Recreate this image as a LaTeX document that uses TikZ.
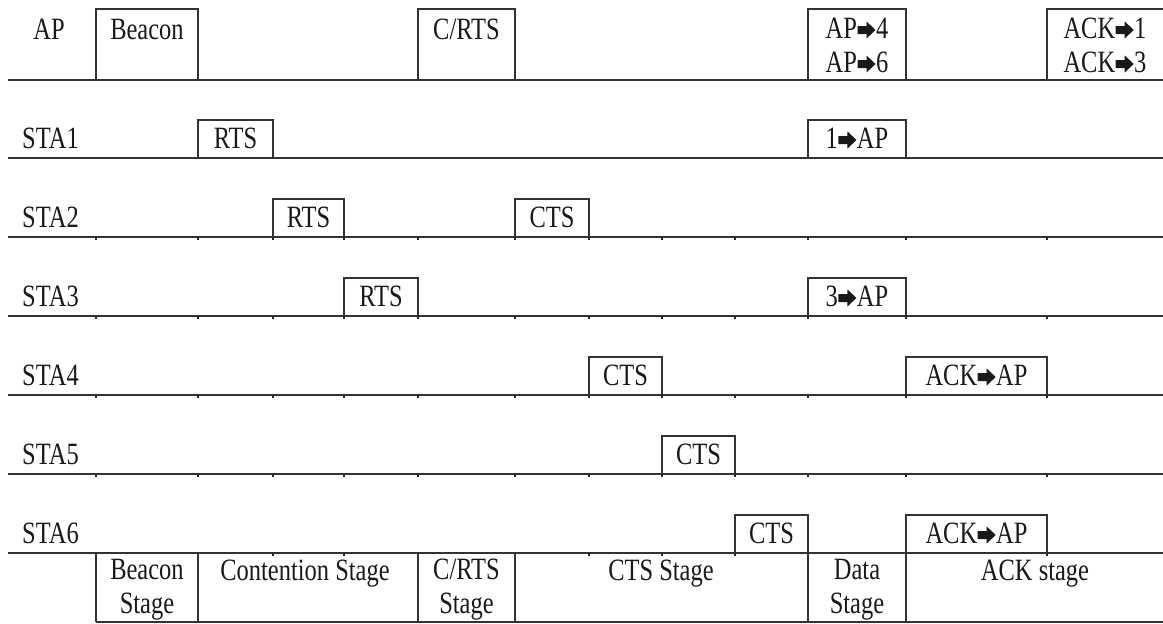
\documentclass[tikz,border=0pt]{standalone}
\usepackage{fontspec}
\setmainfont[FakeStretch=0.79]{Liberation Serif}
\newcommand\ra{\hspace{0.5pt}\tikz[baseline=0pt,x=1pt,y=1pt]\fill[black!90] (0,4) -- (9,4) -- (9,-0.5) -- (18,8) -- (9,16.5) -- (9,12) -- (0,12) -- cycle;\hspace{0.5pt}}
\tikzset{
  mainline/.style={line width=2.4pt, draw=black!80},
  boxline/.style={line width=1.7pt, draw=black!80},
  tickmark/.style={line width=1.4pt, draw=black!85},
  lbl/.style={inner sep=0pt, font=\fontsize{31}{34}\selectfont, text=black!90, anchor=base, align=center},
  rowlbl/.style={lbl, anchor=base west},
}
\newcommand\msgbox[4]{\draw[boxline] (#1,#4) |- (#2,#3) -- (#2,#4);}
\begin{document}
\begin{tikzpicture}[x=1pt,y=-1pt]
\useasboundingbox (0,0) rectangle (1163,624);
\fill[white] (0,0) rectangle (1163,624);
% ----- message boxes -----
% AP
\msgbox{96}{198}{9}{80}
\msgbox{418}{515}{9}{80}
\msgbox{808}{906}{9}{80}
\draw[boxline] (1047,80) |- (1164,9);
% STA1
\msgbox{198}{273}{120}{158}
\msgbox{808}{906}{120}{158}
% STA2
\msgbox{273}{344}{199}{237}
\msgbox{515}{589}{199}{237}
% STA3
\msgbox{344}{418}{278}{316}
\msgbox{808}{906}{278}{316}
% STA4
\msgbox{589}{662}{357}{395}
\msgbox{906}{1047}{357}{395}
% STA5
\msgbox{662}{735}{436}{474}
% STA6
\msgbox{735}{808}{515}{553}
\msgbox{906}{1047}{515}{553}
% ----- time lines -----
\foreach \y/\n in {80/ap,158/s1,237/s2,316/s3,395/s4,474/s5,553/s6}{
  \coordinate (\n-l) at (8,\y);
  \coordinate (\n-r) at (1163,\y);
  \draw[mainline] (\n-l) -- (\n-r);
}
\foreach \y in {237,316,395,474,553}{
  \foreach \x in {96,198,273,344,418,515,589,662,735,808,906,1047}{
    \draw[tickmark] (\x,\y) -- (\x,\y+3);
  }
}
% ----- stage table -----
\coordinate (tb-l) at (96,622);
\coordinate (tb-r) at (1163,622);
\draw[mainline] (tb-l) -- (tb-r);
\foreach \x in {96,198,418,515,808,906}{
  \draw[boxline] (\x,553) -- (\x,622);
}
% ----- row labels -----
\node[lbl] (lap) at (49,39) {AP};
\node[rowlbl] (l1) at (22,148) {STA1};
\node[rowlbl] (l2) at (22,227) {STA2};
\node[rowlbl] (l3) at (22,306) {STA3};
\node[rowlbl] (l4) at (22,385) {STA4};
\node[rowlbl] (l5) at (22,464) {STA5};
\node[rowlbl] (l6) at (22,543) {STA6};
% ----- box texts -----
\node[lbl] (tbeacon) at (147,39) {Beacon};
\node[lbl] (tcrts) at (466.5,39) {C/RTS};
\node[lbl] (tdata) at (857,72) {AP\ra4\\AP\ra6};
\node[lbl] (tack) at (1105,72) {ACK\ra1\\ACK\ra3};
\node[lbl] (r1) at (235.5,148) {RTS};
\node[lbl] (d1) at (857,148) {1\ra AP};
\node[lbl] (r2) at (308.5,227) {RTS};
\node[lbl] (c2) at (552,227) {CTS};
\node[lbl] (r3) at (381,306) {RTS};
\node[lbl] (d3) at (857,306) {3\ra AP};
\node[lbl] (c4) at (625.5,385) {CTS};
\node[lbl] (a4) at (976.5,385) {ACK\ra AP};
\node[lbl] (c5) at (698.5,464) {CTS};
\node[lbl] (c6) at (771.5,543) {CTS};
\node[lbl] (a6) at (976.5,543) {ACK\ra AP};
% ----- stage names -----
\node[lbl] (sbeacon) at (147,613) {Beacon\\Stage};
\node[lbl] (scont) at (305,580) {Contention Stage};
\node[lbl] (scrts) at (466.5,613) {C/RTS\\Stage};
\node[lbl] (scts) at (661,580) {CTS Stage};
\node[lbl] (sdata) at (857,613) {Data\\Stage};
\node[lbl] (sack) at (1035,580) {ACK stage};
\end{tikzpicture}
\end{document}
